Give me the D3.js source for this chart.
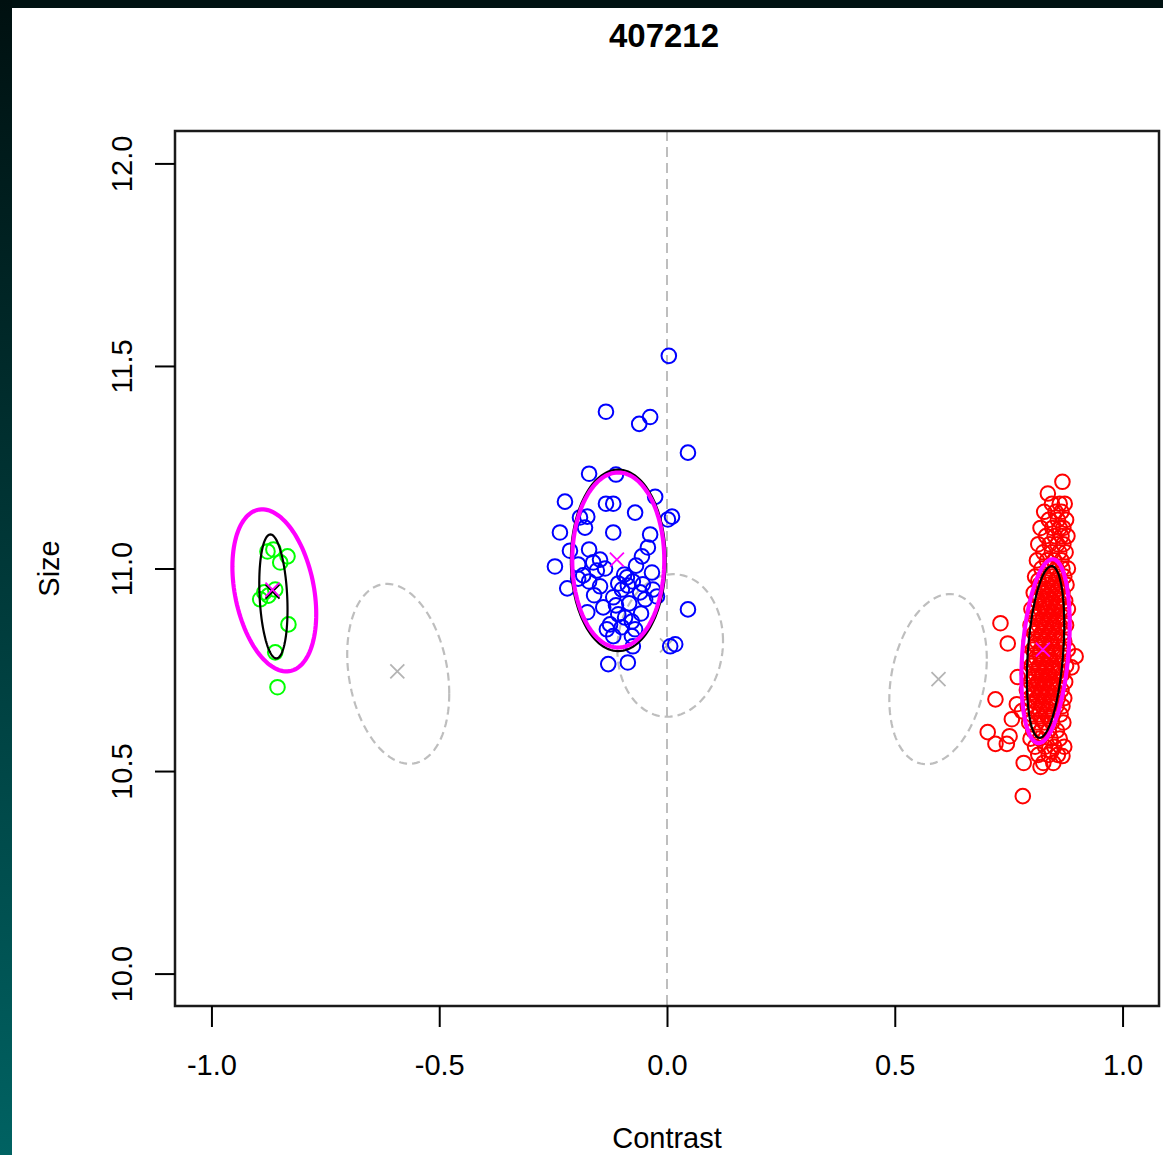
<!DOCTYPE html>
<html>
<head>
<meta charset="utf-8">
<script src="https://cdn.jsdelivr.net/npm/d3@7"></script>
<style>
html, body { margin: 0; padding: 0; background: #001212; }
svg { display: block; }
text { font-family: "Liberation Sans", Arial, Helvetica, sans-serif; fill: #000; }
</style>
</head>
<body>
<script>
// ---- data ----
var title = "407212";
var xLabel = "Contrast", yLabel = "Size";
var xTicks = [-1.0, -0.5, 0.0, 0.5, 1.0];
var yTicks = [10.0, 10.5, 11.0, 11.5, 12.0];
var xDomain = [-1.08, 1.08];
var yDomain = [9.92, 12.08];

var greenX = [-0.877, -0.864, -0.849, -0.833, -0.884, -0.893, -0.875, -0.860, -0.831, -0.860, -0.855];
var greenY = [11.042, 11.047, 11.015, 11.030, 10.941, 10.924, 10.933, 10.948, 10.862, 10.793, 10.707];

var blueX = [0.004, -0.134, -0.061, -0.037, 0.046, -0.171, -0.112, -0.224, -0.134, -0.118, -0.070, -0.026,
	0.011, 0.002, -0.191, -0.175, -0.180, -0.235, -0.118, -0.037, -0.213, -0.171, -0.246, -0.055, -0.147,
	-0.162, -0.136, -0.033, -0.094, -0.184, -0.195, -0.171, -0.088, -0.075, -0.219, -0.053, -0.118, -0.099,
	-0.031, -0.022, -0.140, -0.175, -0.107, -0.092, -0.077, -0.125, -0.070, -0.132, -0.118, -0.077, 0.046,
	0.007, 0.018, -0.129, -0.086, -0.075, -0.154, -0.086, -0.059, -0.107, -0.147, -0.112, -0.083, -0.099,
	-0.057, -0.048, -0.160, -0.195, -0.068, -0.042];
var blueY = [11.525, 11.387, 11.357, 11.374, 11.286, 11.234, 11.232, 11.165, 11.160, 11.160, 11.138, 11.177,
	11.128, 11.121, 11.126, 11.128, 11.101, 11.089, 11.089, 11.084, 11.044, 11.047, 11.005, 11.030, 11.022,
	11.015, 11.000, 10.990, 10.985, 10.983, 10.975, 10.968, 10.978, 10.968, 10.951, 10.961, 10.929, 10.948,
	10.948, 10.931, 10.904, 10.892, 10.887, 10.879, 10.869, 10.862, 10.850, 10.850, 10.833, 10.833, 10.899,
	10.808, 10.813, 10.764, 10.768, 10.808, 10.995, 10.958, 10.941, 10.963, 10.956, 10.909, 10.914, 10.855,
	10.889, 10.924, 10.934, 11.010, 11.007, 11.052];

// red cloud: loose points, then the dense core as rows [y, [x...]]
var redOutX = [0.732, 0.748, 0.897, 0.888, 0.770, 0.721, 0.768, 0.779, 0.757, 0.704, 0.721, 0.752, 0.746,
	0.783, 0.820, 0.868, 0.844, 0.781, 0.868, 0.836];
var redOutY = [10.865, 10.815, 10.783, 10.756, 10.732, 10.677, 10.665, 10.648, 10.628, 10.596, 10.567, 10.586,
	10.567, 10.520, 10.510, 10.537, 10.549, 10.438, 11.214, 11.185];
var redRows = [
	[11.16, [0.845, 0.862, 0.873]],
	[11.14, [0.828, 0.853, 0.866]],
	[11.12, [0.838, 0.858, 0.876]],
	[11.10, [0.820, 0.846, 0.862, 0.870]],
	[11.08, [0.832, 0.851, 0.866, 0.879]],
	[11.06, [0.815, 0.840, 0.857, 0.870]],
	[11.04, [0.826, 0.845, 0.861, 0.875]],
	[11.02, [0.812, 0.834, 0.850, 0.866]],
	[11.00, [0.822, 0.840, 0.855, 0.868, 0.880]],
	[10.98, [0.808, 0.829, 0.846, 0.860, 0.872]],
	[10.97, [0.815, 0.838, 0.853]],
	[10.96, [0.818, 0.836, 0.850, 0.864, 0.877]],
	[10.95, [0.822, 0.845, 0.858]],
	[10.94, [0.805, 0.825, 0.841, 0.856, 0.868]],
	[10.93, [0.818, 0.836, 0.852]],
	[10.92, [0.812, 0.830, 0.845, 0.860, 0.874]],
	[10.91, [0.826, 0.842, 0.855]],
	[10.90, [0.800, 0.820, 0.836, 0.850, 0.866, 0.880]],
	[10.89, [0.815, 0.833, 0.848]],
	[10.88, [0.808, 0.826, 0.842, 0.857, 0.870]],
	[10.87, [0.823, 0.840, 0.856]],
	[10.86, [0.798, 0.816, 0.832, 0.848, 0.862, 0.876]],
	[10.85, [0.812, 0.830, 0.846]],
	[10.84, [0.806, 0.822, 0.838, 0.853, 0.868]],
	[10.83, [0.820, 0.836, 0.851]],
	[10.82, [0.796, 0.812, 0.828, 0.843, 0.858, 0.872]],
	[10.81, [0.810, 0.827, 0.844]],
	[10.80, [0.803, 0.820, 0.835, 0.850, 0.864, 0.880]],
	[10.79, [0.818, 0.834, 0.849]],
	[10.78, [0.794, 0.810, 0.826, 0.841, 0.856, 0.870]],
	[10.77, [0.808, 0.825, 0.841]],
	[10.76, [0.800, 0.817, 0.832, 0.847, 0.862, 0.876]],
	[10.75, [0.815, 0.831, 0.846]],
	[10.74, [0.792, 0.808, 0.824, 0.839, 0.854, 0.868]],
	[10.73, [0.806, 0.822, 0.838]],
	[10.72, [0.798, 0.814, 0.830, 0.845, 0.860, 0.874]],
	[10.71, [0.812, 0.828, 0.844]],
	[10.70, [0.790, 0.806, 0.822, 0.837, 0.852, 0.866]],
	[10.69, [0.804, 0.820, 0.836]],
	[10.68, [0.796, 0.812, 0.828, 0.843, 0.858, 0.872]],
	[10.67, [0.810, 0.826, 0.842]],
	[10.66, [0.792, 0.808, 0.824, 0.840, 0.855, 0.868]],
	[10.65, [0.818, 0.834]],
	[10.64, [0.800, 0.816, 0.832, 0.848, 0.864]],
	[10.63, [0.822, 0.838]],
	[10.62, [0.795, 0.812, 0.828, 0.845, 0.870]],
	[10.60, [0.804, 0.822, 0.838, 0.856]],
	[10.58, [0.798, 0.818, 0.842, 0.862]],
	[10.56, [0.808, 0.830, 0.850, 0.872]],
	[10.54, [0.815, 0.838, 0.858]],
	[10.52, [0.826, 0.848]]
];

// ellipses: centre, spread in x / y, correlation
var grayEllipses = [
	{cx: -0.590, cy: 10.740, sx: 0.112, sy: 0.222, r: -0.22},
	{cx: 0.007, cy: 10.810, sx: 0.116, sy: 0.176, r: 0.06},
	{cx: 0.595, cy: 10.727, sx: 0.107, sy: 0.210, r: 0.24}
];
var blackEllipses = [
	{cx: -0.864, cy: 10.931, sx: 0.031, sy: 0.153, r: -0.21},
	{cx: -0.107, cy: 11.020, sx: 0.104, sy: 0.224, r: 0.00},
	{cx: 0.831, cy: 10.794, sx: 0.041, sy: 0.212, r: 0.32}
];
var magentaEllipses = [
	{cx: -0.862, cy: 10.946, sx: 0.092, sy: 0.200, r: -0.29},
	{cx: -0.107, cy: 11.021, sx: 0.101, sy: 0.216, r: 0.00},
	{cx: 0.831, cy: 10.796, sx: 0.053, sy: 0.227, r: 0.29}
];
var grayCentres = [[-0.592, 10.746], [0.000, 10.810], [0.596, 10.727]];
var blackCentres = [[-0.866, 10.943]];
var magentaCentres = [[-0.866, 10.948], [-0.110, 11.022], [0.825, 10.800]];

// ---- drawing ----
var W = 1163, H = 1155;
var box = {left: 175, right: 1159, top: 131, bottom: 1006};

var svg = d3.select("body").append("svg").attr("width", W).attr("height", H);

var defs = svg.append("defs");
var grad = defs.append("linearGradient").attr("id", "edge")
	.attr("x1", "0%").attr("y1", "0%").attr("x2", "0%").attr("y2", "100%");
grad.append("stop").attr("offset", "0%").attr("stop-color", "#001010");
grad.append("stop").attr("offset", "100%").attr("stop-color", "#006262");

svg.append("rect").attr("width", W).attr("height", H).attr("fill", "#001212");
svg.append("rect").attr("x", 0).attr("y", 0).attr("width", 12).attr("height", H).attr("fill", "url(#edge)");
svg.append("rect").attr("x", 12).attr("y", 8).attr("width", W - 12).attr("height", H - 8).attr("fill", "#fff");

var x = d3.scaleLinear().domain(xDomain).range([box.left, box.right]);
var y = d3.scaleLinear().domain(yDomain).range([box.bottom, box.top]);

var plot = svg.append("g");

// dashed zero line
plot.append("line")
	.attr("x1", x(0)).attr("x2", x(0))
	.attr("y1", box.top).attr("y2", box.bottom)
	.attr("stroke", "#bebebe").attr("stroke-width", 2)
	.attr("stroke-dasharray", "10,6");

function ellipsePath(e){
	var pts = d3.range(0, 121).map(function(i){
		var t = i / 120 * 2 * Math.PI;
		return [e.cx + e.sx * Math.cos(t),
			e.cy + e.sy * (e.r * Math.cos(t) + Math.sqrt(1 - e.r * e.r) * Math.sin(t))];
	});
	return d3.line().x(function(d){ return x(d[0]); }).y(function(d){ return y(d[1]); })(pts) + "Z";
}

function crosses(g, data, colour, size, width){
	g.selectAll(null).data(data).enter().append("path")
		.attr("d", function(d){
			var px = x(d[0]), py = y(d[1]);
			return "M" + (px - size) + "," + (py - size) + "L" + (px + size) + "," + (py + size) +
				"M" + (px - size) + "," + (py + size) + "L" + (px + size) + "," + (py - size);
		})
		.attr("stroke", colour).attr("stroke-width", width).attr("fill", "none");
}

plot.selectAll(".gray-ell").data(grayEllipses).enter().append("path")
	.attr("class", "gray-ell")
	.attr("d", ellipsePath)
	.attr("fill", "none").attr("stroke", "#bebebe").attr("stroke-width", 2.2)
	.attr("stroke-dasharray", "8,5");
crosses(plot, grayCentres, "#b4b4b4", 7, 1.8);

function points(xs, ys, colour){
	var data = xs.map(function(v, i){ return [v, ys[i]]; });
	plot.append("g").selectAll("circle").data(data).enter().append("circle")
		.attr("cx", function(d){ return x(d[0]); })
		.attr("cy", function(d){ return y(d[1]); })
		.attr("r", 7.3)
		.attr("fill", "none").attr("stroke", colour).attr("stroke-width", 2);
}

points(blueX, blueY, "#0000ff");
var redX = redOutX.slice(), redY = redOutY.slice();
redRows.forEach(function(row){
	row[1].forEach(function(v){ redX.push(v); redY.push(row[0]); });
});
points(redX, redY, "#ff0000");
points(greenX, greenY, "#00ff00");

plot.selectAll(".black-ell").data(blackEllipses).enter().append("path")
	.attr("class", "black-ell")
	.attr("d", ellipsePath)
	.attr("fill", "none").attr("stroke", "#000").attr("stroke-width", 2.2);
crosses(plot, blackCentres, "#000", 7, 1.8);

plot.selectAll(".mag-ell").data(magentaEllipses).enter().append("path")
	.attr("class", "mag-ell")
	.attr("d", ellipsePath)
	.attr("fill", "none").attr("stroke", "#ff00ff").attr("stroke-width", 4.2);
crosses(plot, magentaCentres, "#ff00ff", 7, 1.8);

// box
svg.append("rect")
	.attr("x", box.left).attr("y", box.top)
	.attr("width", box.right - box.left).attr("height", box.bottom - box.top)
	.attr("fill", "none").attr("stroke", "#1a1a1a").attr("stroke-width", 2.5);

// axes
var fmt = d3.format(".1f");
var xAxis = svg.append("g").attr("transform", "translate(0," + box.bottom + ")")
	.call(d3.axisBottom(x).tickValues(xTicks).tickFormat(function(d){ return fmt(d).replace("\u2212", "-"); })
		.tickSize(21).tickPadding(27).tickSizeOuter(0));
xAxis.select(".domain").remove();
xAxis.selectAll("line").attr("stroke", "#000").attr("stroke-width", 2);
xAxis.selectAll("text").attr("font-size", 29).attr("fill", "#000")
	.style("font-family", "'Liberation Sans', Arial, sans-serif");

var yAxis = svg.append("g").attr("transform", "translate(" + box.left + ",0)")
	.call(d3.axisLeft(y).tickValues(yTicks).tickFormat(fmt).tickSize(20).tickSizeOuter(0));
yAxis.select(".domain").remove();
yAxis.selectAll("line").attr("stroke", "#000").attr("stroke-width", 2);
yAxis.selectAll("text")
	.attr("font-size", 29).attr("fill", "#000")
	.style("font-family", "'Liberation Sans', Arial, sans-serif")
	.attr("text-anchor", "middle")
	.attr("dy", null)
	.attr("x", 0).attr("y", 132 - box.left)
	.attr("transform", "rotate(-90)");

// titles
svg.append("text").attr("x", 664).attr("y", 47)
	.attr("text-anchor", "middle").attr("font-size", 33).attr("font-weight", "bold")
	.text(title);
svg.append("text").attr("x", x(0)).attr("y", 1148)
	.attr("text-anchor", "middle").attr("font-size", 29)
	.text(xLabel);
svg.append("text").attr("transform", "translate(59," + y(11) + ") rotate(-90)")
	.attr("text-anchor", "middle").attr("font-size", 29)
	.text(yLabel);
</script>
</body>
</html>
